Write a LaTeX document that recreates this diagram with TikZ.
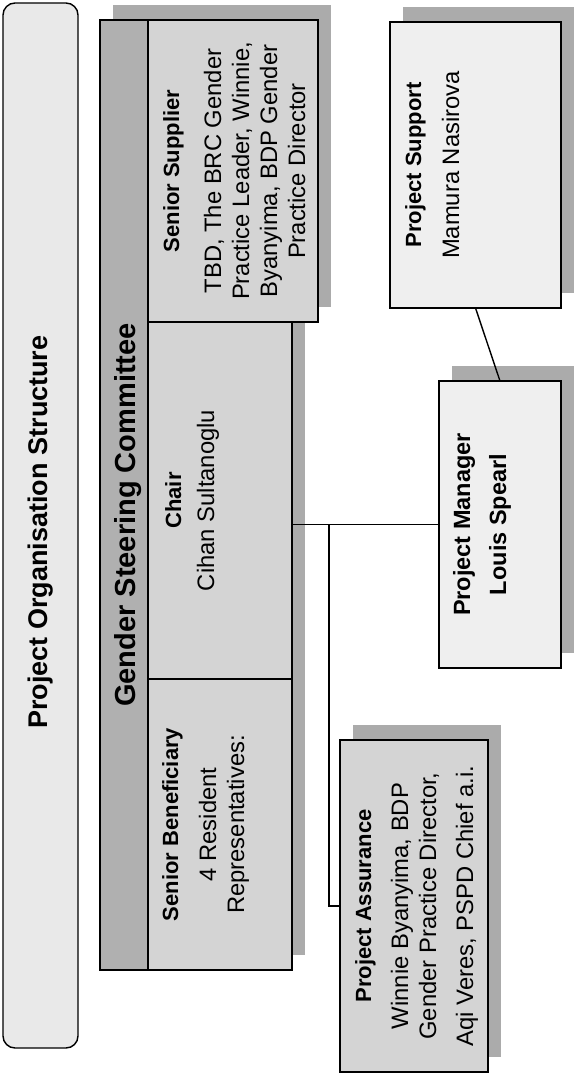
\documentclass[tikz,border=0pt]{standalone}
\usepackage{fontspec}
\setmainfont{Liberation Sans}
\usetikzlibrary{backgrounds,calc}
\definecolor{shadowgray}{HTML}{ABABAB}
\definecolor{headgray}{HTML}{B0B0B0}
\definecolor{boxgray}{HTML}{D4D4D4}
\definecolor{palegray}{HTML}{EFEFEF}
\definecolor{titlegray}{HTML}{E9E9E9}
\newcommand\headtxt[1]{{\fontsize{22}{28}\selectfont\bfseries #1}}
\begin{document}
\begin{tikzpicture}[x=1pt,y=-1pt,
  box/.style={draw=black,line width=1.4pt,inner sep=0pt,outer sep=0pt,rectangle},
  txt/.style={rotate=90,anchor=north,inner sep=0pt,align=center,font=\fontsize{23.8}{28}\selectfont},
  conn/.style={draw=black,line width=1.4pt}]
\useasboundingbox (0,0) rectangle (577,1084);

% title
\node[box,rounded corners=12pt,fill=titlegray,minimum width=75pt,minimum height=1045pt] (title) at (40.5,525.5) {};
\node[rotate=90,inner sep=0pt,font=\bfseries\fontsize{27}{32}\selectfont] (titlet) at (40.5,532) {Project Organisation Structure};

% steering committee
\node[box,fill=headgray,minimum width=48pt,minimum height=950pt] (gsc) at (124,495) {};
\node[box,fill=boxgray,minimum width=170pt,minimum height=302pt] (ss) at (233,171) {};
\node[box,fill=boxgray,minimum width=144pt,minimum height=357pt] (chair) at (220,500.5) {};
\node[box,fill=boxgray,minimum width=144pt,minimum height=291pt] (sb) at (220,824.5) {};

% other boxes
\node[box,fill=palegray,minimum width=171pt,minimum height=286pt] (ps) at (475.5,165) {};
\node[box,fill=palegray,minimum width=122pt,minimum height=287pt] (pm) at (500,524.5) {};
\node[box,fill=boxgray,minimum width=148pt,minimum height=332pt] (pa) at (414,906) {};

% shadows
\begin{scope}[on background layer]
\foreach \n in {gsc,ss,chair,sb,ps,pm,pa}
  \fill[shadowgray] ([xshift=13pt,yshift=15pt]\n.south west) rectangle ([xshift=13pt,yshift=15pt]\n.north east);
\end{scope}

% texts
\node[rotate=90,inner sep=0pt,font=\bfseries\fontsize{29}{34}\selectfont] (gsct) at (128,515) {Gender Steering Committee};
\node[txt] (sst) at ($(ss.west)+(15,0)$) {\headtxt{Senior Supplier}\\[14pt]TBD, The BRC Gender\\Practice Leader, Winnie,\\Byanyima, BDP Gender\\Practice Director};
\node[txt] (chairt) at ($(chair.west)+(17,0)$) {\headtxt{Chair}\\[5pt]Cihan Sultanoglu};
\node[txt] (sbt) at ($(sb.west)+(14,0)$) {\headtxt{Senior Beneficiary}\\[10pt]4 Resident\\Representatives:};
\node[txt] (pst) at ($(ps.west)+(15,0)$) {\headtxt{Project Support}\\[10pt]Mamura Nasirova};
\node[txt,font=\bfseries\fontsize{23.5}{28}\selectfont] (pmt) at ($(pm.west)+(14,0)$) {Project Manager\\[8pt]Louis Spearl};
\node[txt] (pat) at ($(pa.west)+(15,0)$) {\headtxt{Project Assurance}\\[9pt]Winnie Byanyima, BDP\\Gender Practice Director,\\[9pt]Aqi Veres, PSPD Chief a.i.};

% connectors
\coordinate (jc) at ($(chair.east |- pm.west)+(37,0)$);
\draw[conn] (chair.east |- pm.west) -- (pm.west);
\draw[conn] (jc) |- (pa.west);
\draw[conn] (ps.south) -- (pm.north);
\end{tikzpicture}
\end{document}
